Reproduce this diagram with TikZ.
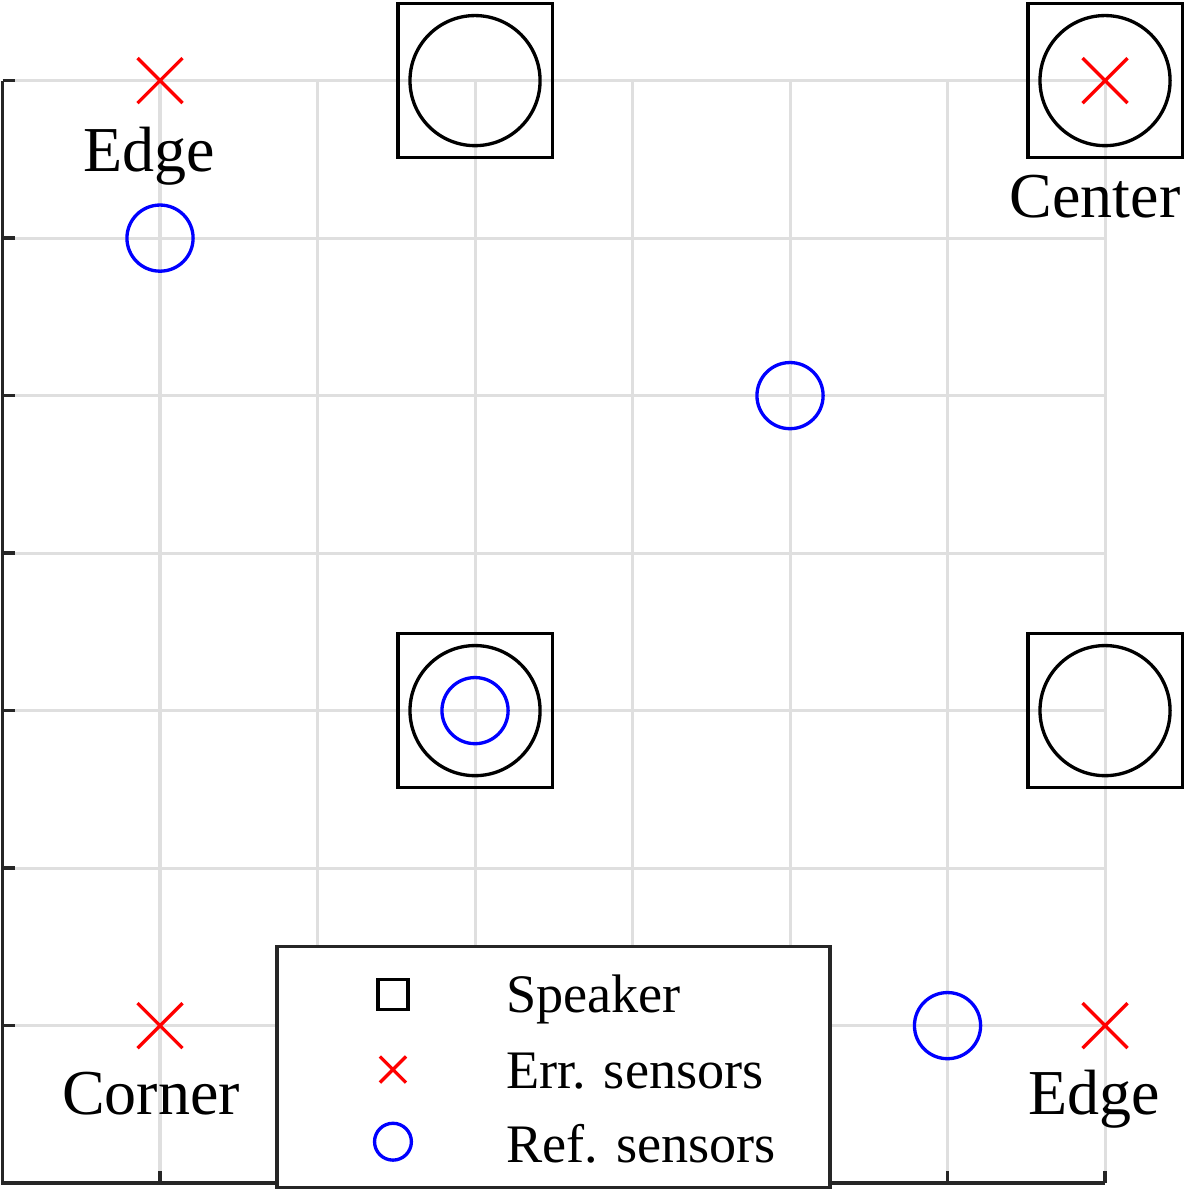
\documentclass[tikz,border=0pt]{standalone}
\usepackage{fontspec}
\setmainfont{Liberation Serif}
\definecolor{gridgray}{RGB}{223,223,223}
\definecolor{axisgray}{RGB}{38,38,38}

\begin{document}
\begin{tikzpicture}[scale=1.0,
        speaker/.style={draw=black, line width=0.6pt},
        errmark/.style={draw=red, line width=0.6pt},
        refmark/.style={draw=blue, line width=0.6pt},
        spotlabel/.style={anchor=base, inner sep=0pt, font=\fontsize{11.56}{13}\selectfont},
        legtext/.style={anchor=base west, inner sep=0pt, font=\fontsize{9.8}{11}\selectfont}]
    \useasboundingbox (-1.016,-1.063) rectangle (6.603,6.512);

    % Grid
    \foreach \k in {0,...,6} {
        \draw[gridgray, line width=0.55pt] (\k,-1) -- (\k,6);
        \draw[gridgray, line width=0.55pt] (-1,\k) -- (6,\k);
    }

    % Axes
    \draw[axisgray, line width=0.6pt] (-1,6) -- (-1,-1) -- (6,-1);
    \foreach \k in {0,...,6} {
        \draw[axisgray, line width=0.6pt] (-1,\k) -- ++(0.08,0);
        \draw[axisgray, line width=0.6pt] (\k,-1) -- ++(0,0.08);
    }

    % Speakers
    \foreach \x/\y in {2/6, 6/6, 2/2, 6/2} {
        \draw[speaker] (\x-0.49,\y-0.49) rectangle (\x+0.49,\y+0.49);
        \draw[speaker] (\x,\y) circle (0.413);
    }

    % Error sensors
    \foreach \x/\y in {0/6, 6/6, 0/0, 6/0} {
        \draw[errmark] (\x-0.143,\y-0.143) -- (\x+0.143,\y+0.143)
                       (\x-0.143,\y+0.143) -- (\x+0.143,\y-0.143);
    }

    % Reference sensors
    \foreach \x/\y in {0/5, 4/4, 2/2, 5/0} {
        \draw[refmark] (\x,\y) circle (0.21);
    }

    % Labels
    \node[spotlabel] (edgetop) at (-0.07,5.422) {Edge};
    \node[spotlabel] (center) at (5.937,5.130) {Center};
    \node[spotlabel] (corner) at (-0.057,-0.565) {Corner};
    \node[spotlabel] (edgebot) at (5.930,-0.565) {Edge};

    % Legend
    \draw[axisgray, fill=white, line width=0.6pt] (0.743,-1.029) rectangle (4.254,0.502);
    \draw[speaker] (1.479-0.095,0.197-0.095) rectangle (1.479+0.095,0.197+0.095);
    \draw[errmark] (1.479-0.083,-0.279-0.083) -- (1.479+0.083,-0.279+0.083)
                   (1.479-0.083,-0.279+0.083) -- (1.479+0.083,-0.279-0.083);
    \draw[refmark] (1.479,-0.737) circle (0.117);
    \node[legtext] (legspk) at (2.19,0.083) {Speaker};
    \node[legtext] (legerr) at (2.19,-0.400) {Err. sensors};
    \node[legtext] (legref) at (2.19,-0.870) {Ref. sensors};
\end{tikzpicture}
\end{document}
